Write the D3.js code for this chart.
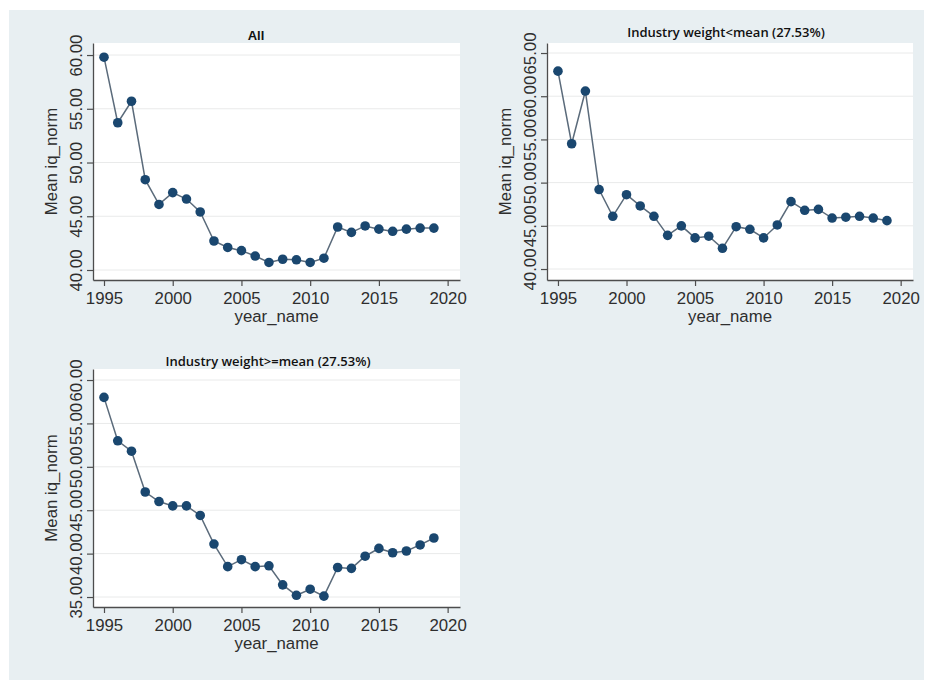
<!DOCTYPE html>
<html>
<head>
<meta charset="utf-8">
<script src="https://cdn.jsdelivr.net/npm/d3@7"></script>
<style>
  html, body { margin: 0; padding: 0; background: #ffffff; }
  svg { display: block; }
</style>
</head>
<body>
<svg id="chart" width="931" height="684"></svg>
<script>
// Yearly means of iq_norm, overall and split by industry weight
const years = [1995, 1996, 1997, 1998, 1999, 2000, 2001, 2002, 2003, 2004, 2005, 2006, 2007,
               2008, 2009, 2010, 2011, 2012, 2013, 2014, 2015, 2016, 2017, 2018, 2019];
const meanAll = [59.8, 53.7, 55.7, 48.4, 46.1, 47.2, 46.6, 45.4, 42.7, 42.1, 41.8, 41.3, 40.7,
                 41.0, 40.95, 40.7, 41.1, 44.0, 43.5, 44.1, 43.8, 43.6, 43.8, 43.9, 43.9];
const meanBelow = [62.9, 54.5, 60.6, 49.2, 46.1, 48.6, 47.3, 46.1, 43.9, 45.0, 43.6, 43.8, 42.4,
                   44.9, 44.6, 43.6, 45.1, 47.8, 46.8, 46.9, 45.9, 46.0, 46.1, 45.9, 45.6];
const meanAbove = [58.0, 53.0, 51.8, 47.1, 46.0, 45.5, 45.5, 44.4, 41.1, 38.5, 39.3, 38.5, 38.6,
                   36.4, 35.2, 35.9, 35.1, 38.4, 38.3, 39.7, 40.6, 40.1, 40.3, 41.0, 41.8];

const xTicks = [1995, 2000, 2005, 2010, 2015, 2020];
const yTicksAll = [40, 45, 50, 55, 60];
const yTicksBelow = [40, 45, 50, 55, 60, 65];
const yTicksAbove = [35, 40, 45, 50, 55, 60];

const titles = ["All", "Industry weight<mean (27.53%)", "Industry weight>=mean (27.53%)"];
const xTitle = "year_name";
const yTitle = "Mean iq_norm";

// Panel geometry and styling
const panels = [
  { title: titles[0], values: meanAll, ticks: yTicksAll, domain: [39.07, 61.12],
    box: { x0: 93, x1: 460, y0: 43, y1: 280 }, titleX: 256, titleY: 40,
    titleFont: "bold 13px 'Liberation Sans', Arial, sans-serif" },
  { title: titles[1], values: meanBelow, ticks: yTicksBelow, domain: [38.73, 66.16],
    box: { x0: 547, x1: 913, y0: 43, y1: 280 }, titleX: 726, titleY: 37,
    titleFont: "600 13px 'Open Sans', sans-serif" },
  { title: titles[2], values: meanAbove, ticks: yTicksAbove, domain: [33.85, 61.27],
    box: { x0: 93, x1: 460, y0: 369, y1: 607 }, titleX: 268, titleY: 366,
    titleFont: "600 13px 'Open Sans', sans-serif" }
];

const svg = d3.select("#chart");
const labelFont = "'Liberation Sans', Arial, sans-serif";
const labelSize = "16.8px";
const textColor = "#2e2e2e";
const axisColor = "#4d4d4d";
const markerColor = "#1a476f";
const lineColor = "#5b6b7b";

// graph region background
svg.append("rect")
  .attr("x", 9).attr("y", 10).attr("width", 915).attr("height", 670)
  .attr("fill", "#e8eff2");

panels.forEach(p => {
  const b = p.box;
  const g = svg.append("g");

  const x = d3.scaleLinear().domain([1994.2, 2020.9]).range([b.x0, b.x1]);
  const y = d3.scaleLinear().domain(p.domain).range([b.y1, b.y0]);

  // plot region
  g.append("rect")
    .attr("x", b.x0).attr("y", b.y0)
    .attr("width", b.x1 - b.x0).attr("height", b.y1 - b.y0)
    .attr("fill", "#ffffff");

  // horizontal grid lines
  g.append("g").selectAll("line").data(p.ticks).join("line")
    .attr("x1", b.x0).attr("x2", b.x1)
    .attr("y1", d => y(d)).attr("y2", d => y(d))
    .attr("stroke", "#e9eaea").attr("stroke-width", 1);

  // x axis
  const xAxis = g.append("g")
    .attr("transform", `translate(0,${b.y1})`)
    .call(d3.axisBottom(x).tickValues(xTicks).tickFormat(d3.format("d"))
      .tickSize(6).tickSizeOuter(0));
  xAxis.select(".domain").attr("stroke", axisColor).attr("stroke-width", 1.3);
  xAxis.selectAll(".tick line").attr("stroke", axisColor).attr("stroke-width", 1.2);
  xAxis.selectAll(".tick text")
    .attr("y", 24).attr("dy", 0)
    .attr("fill", textColor)
    .style("font", `${labelSize} ${labelFont}`);

  // y axis with rotated labels
  const yAxis = g.append("g")
    .attr("transform", `translate(${b.x0},0)`)
    .call(d3.axisLeft(y).tickValues(p.ticks).tickFormat(d3.format(".2f"))
      .tickSize(6).tickSizeOuter(0));
  yAxis.select(".domain").attr("stroke", axisColor).attr("stroke-width", 1.3);
  yAxis.selectAll(".tick line").attr("stroke", axisColor).attr("stroke-width", 1.2);
  yAxis.selectAll(".tick text")
    .attr("x", 0).attr("dy", 0)
    .attr("transform", "translate(-11,0) rotate(-90)")
    .attr("text-anchor", "middle")
    .attr("fill", textColor)
    .style("font", `${labelSize} ${labelFont}`);

  // axis titles
  g.append("text")
    .attr("x", (b.x0 + b.x1) / 2).attr("y", b.y1 + 42)
    .attr("text-anchor", "middle")
    .attr("fill", textColor)
    .style("font", `${labelSize} ${labelFont}`)
    .text(xTitle);

  g.append("text")
    .attr("transform", `translate(${b.x0 - 36},${(b.y0 + b.y1) / 2}) rotate(-90)`)
    .attr("text-anchor", "middle")
    .attr("fill", textColor)
    .style("font", `${labelSize} ${labelFont}`)
    .text(yTitle);

  // panel title
  g.append("text")
    .attr("x", p.titleX).attr("y", p.titleY)
    .attr("text-anchor", "middle")
    .attr("fill", "#111111")
    .style("font", p.titleFont)
    .text(p.title);

  // connected series
  const pts = years.map((yr, i) => [yr, p.values[i]]);
  g.append("path")
    .datum(pts)
    .attr("fill", "none")
    .attr("stroke", lineColor)
    .attr("stroke-width", 1.5)
    .attr("d", d3.line().x(d => x(d[0])).y(d => y(d[1])));

  g.append("g").selectAll("circle").data(pts).join("circle")
    .attr("cx", d => x(d[0])).attr("cy", d => y(d[1]))
    .attr("r", 4.8)
    .attr("fill", markerColor);
});
</script>
</body>
</html>
